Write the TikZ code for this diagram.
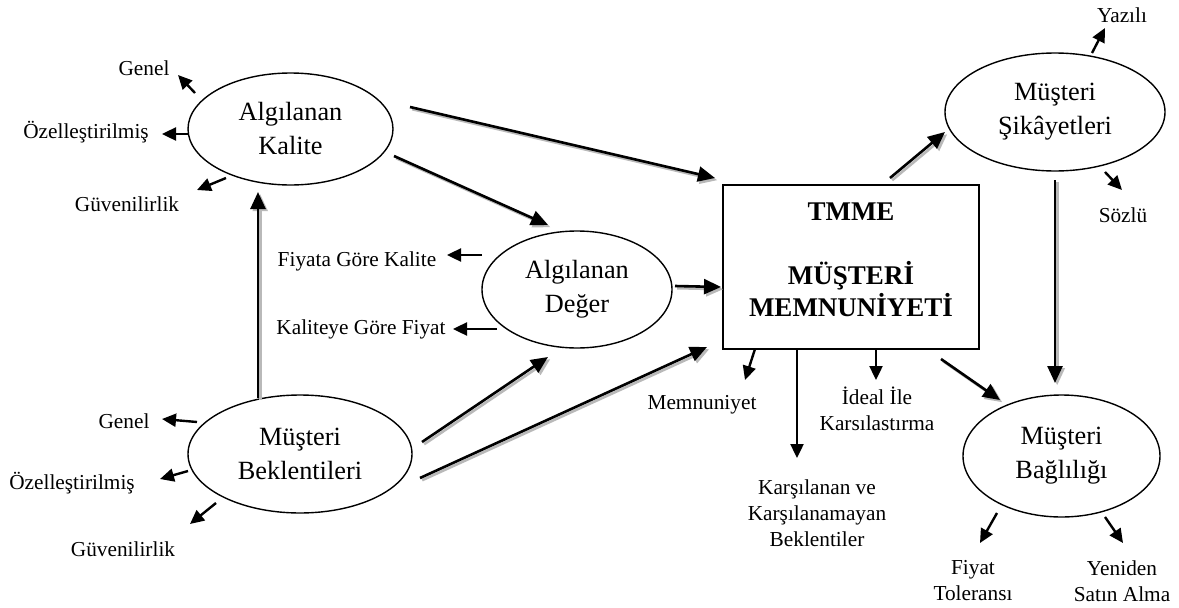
\documentclass[tikz,border=0pt]{standalone}
\usepackage{fontspec}
\setmainfont{Liberation Serif}
\usetikzlibrary{shapes.geometric,arrows.meta}
\tikzset{
  ell/.style={draw, ellipse, line width=1.4pt, inner sep=0pt, align=center, font=\fontsize{26.3}{34}\selectfont},
  boxst/.style={draw, rectangle, line width=1.4pt, inner sep=0pt},
  lbl/.style={align=center, inner sep=0pt, font=\fontsize{21.3}{26}\selectfont},
  smarr/.style={line width=2.4pt, -{Triangle[length=14pt,width=13pt]}},
  bigarr/.style={line width=2.6pt, -{Triangle[length=17pt,width=15pt]},
    preaction={draw=gray!55, line width=2.6pt, -{Triangle[length=17pt,width=15pt]},
      transform canvas={shift={(2.2pt,-2.2pt)}}}}
}
\begin{document}
\begin{tikzpicture}[x=1pt,y=-1pt]
\useasboundingbox[fill=white] (0,0) rectangle (1179,608);

% main shapes
\node[ell, minimum width=205pt, minimum height=112pt] (ak) at (290.5,129) {Algılanan\\Kalite};
\node[ell, minimum width=190pt, minimum height=117pt] (ad) at (577,289.5) {Algılanan\\Değer};
\node[ell, minimum width=224pt, minimum height=118pt] (mb) at (300,454) {Müşteri\\Beklentileri};
\node[ell, minimum width=220pt, minimum height=118pt] (ms) at (1055,112) {Müşteri\\Şikâyetleri};
\node[ell, minimum width=197pt, minimum height=122pt] (mbg) at (1061.5,456) {Müşteri\\Bağlılığı};
\node[boxst, minimum width=256pt, minimum height=164pt] (box) at (851,267) {};
\node[align=center, inner sep=0pt, font=\fontsize{27}{32}\selectfont\bfseries] (boxtxt) at (851,260) {TMME\\[32pt]MÜŞTERİ\\MEMNUNİYETİ};

% labels
\node[lbl] (g1) at (144,68) {Genel};
\node[lbl] (o1) at (86,132) {Özelleştirilmiş};
\node[lbl] (v1) at (127,204) {Güvenilirlik};
\node[lbl] (fk) at (357,261) {Fiyata Göre Kalite};
\node[lbl] (kf) at (361,329) {Kaliteye Göre Fiyat};
\node[lbl] (g2) at (124,421) {Genel};
\node[lbl] (o2) at (72,483) {Özelleştirilmiş};
\node[lbl] (v2) at (123,549) {Güvenilirlik};
\node[lbl] (mem) at (702,405) {Memnuniyet};
\node[lbl] (kar) at (817,513) {Karşılanan ve\\Karşılanamayan\\Beklentiler};
\node[lbl] (ide) at (877,409) {İdeal İle\\Karsılastırma};
\node[lbl] (yaz) at (1122,15) {Yazılı};
\node[lbl] (soz) at (1123,215) {Sözlü};
\node[lbl] (fiy) at (973,581) {Fiyat\\Toleransı};
\node[lbl] (yen) at (1122,581) {Yeniden\\Satın Alma};

% big arrow end points
\coordinate (a1s) at (410,107);  \coordinate (a1e) at (715,178);
\coordinate (a2s) at (394,156);  \coordinate (a2e) at (548,225);
\coordinate (a3s) at (258,398);  \coordinate (a3e) at (258,192);
\coordinate (a4s) at (422,442);  \coordinate (a4e) at (548,357);
\coordinate (a5s) at (420,478);  \coordinate (a5e) at (707,347);
\coordinate (a6s) at (675,286);  \coordinate (a6e) at (721,287);
\coordinate (a7s) at (890,178);  \coordinate (a7e) at (945,132);
\coordinate (a8s) at (1055,180); \coordinate (a8e) at (1055,383);
\coordinate (a9s) at (941,359);  \coordinate (a9e) at (1000,400);

\draw[bigarr] (a1s) -- (a1e);
\draw[bigarr] (a2s) -- (a2e);
\draw[bigarr] (a3s) -- (a3e);
\draw[bigarr] (a4s) -- (a4e);
\draw[bigarr] (a5s) -- (a5e);
\draw[bigarr] (a6s) -- (a6e);
\draw[bigarr] (a7s) -- (a7e);
\draw[bigarr] (a8s) -- (a8e);
\draw[bigarr] (a9s) -- (a9e);

% small arrow end points
\coordinate (s1s) at (195,93);   \coordinate (s1e) at (178,75);
\coordinate (s2s) at (188,134);  \coordinate (s2e) at (162,134);
\coordinate (s3s) at (226,178);  \coordinate (s3e) at (197,190);
\coordinate (s4s) at (482,255);  \coordinate (s4e) at (447,255);
\coordinate (s5s) at (497,329);  \coordinate (s5e) at (453,329);
\coordinate (s6s) at (197,422);  \coordinate (s6e) at (162,419);
\coordinate (s7s) at (188,471);  \coordinate (s7e) at (160,479);
\coordinate (s8s) at (216,503);  \coordinate (s8e) at (190,524);
\coordinate (s9s) at (755,349);  \coordinate (s9e) at (745,380);
\coordinate (s10s) at (797,349); \coordinate (s10e) at (797,458);
\coordinate (s11s) at (876,349); \coordinate (s11e) at (876,380);
\coordinate (s12s) at (1092,53); \coordinate (s12e) at (1105,28);
\coordinate (s13s) at (1105,172); \coordinate (s13e) at (1122,190);
\coordinate (s14s) at (997,513); \coordinate (s14e) at (980,543);
\coordinate (s15s) at (1105,517); \coordinate (s15e) at (1123,543);

\foreach \i in {1,...,15} {\draw[smarr] (s\i s) -- (s\i e);}
\end{tikzpicture}
\end{document}
